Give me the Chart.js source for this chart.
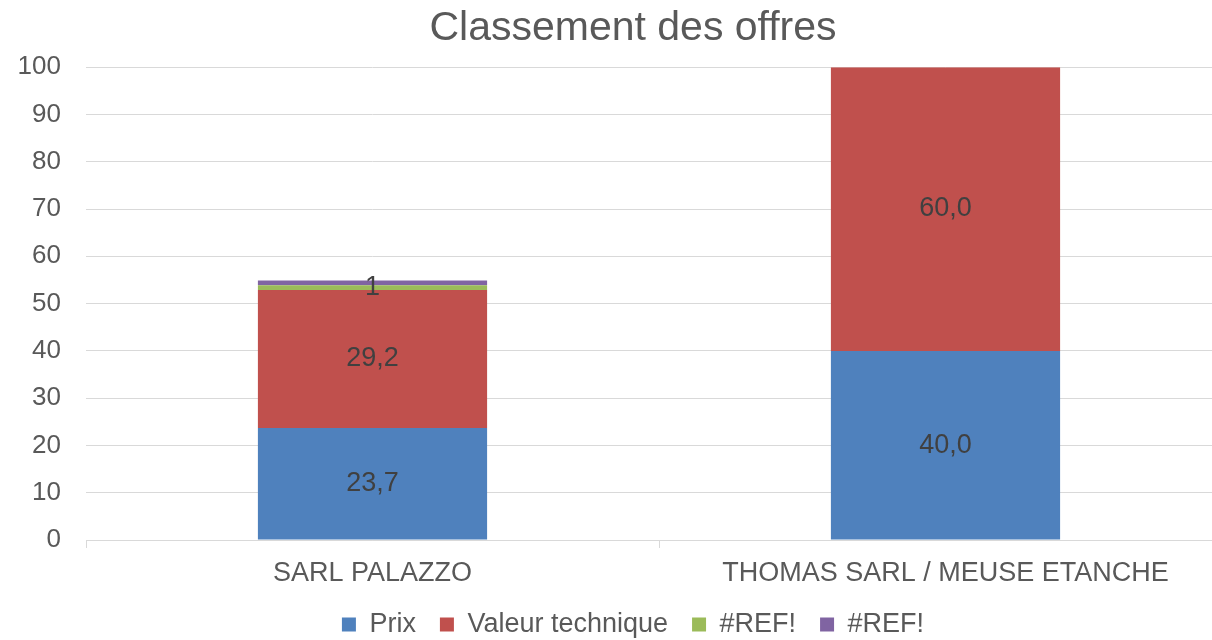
<!DOCTYPE html>
<html>
<head>
<meta charset="utf-8">
<script src="https://cdn.jsdelivr.net/npm/chart.js@4"></script>
<style>
  html, body { margin: 0; padding: 0; background: #fff; overflow: hidden; }
  #clip { width: 1212px; height: 640px; overflow: hidden; position: relative; }
  #wrap { width: 1266px; height: 648px; position: absolute; left: 0; top: 0; }
</style>
</head>
<body>
<div id="clip"><div id="wrap"><canvas id="chart"></canvas></div></div>
<script>
// ---------------- DATA ----------------
const categories = ["SARL PALAZZO", "THOMAS SARL / MEUSE ETANCHE"];
const prix = [23.7, 40.0];
const valeurTechnique = [29.2, 60.0];
const ref1 = [1, 0];
const ref2 = [1, 0];
const yTicks = [0, 10, 20, 30, 40, 50, 60, 70, 80, 90, 100];

const textColor = "#595959";
const font = "'Liberation Sans', Arial, sans-serif";

// simple data labels drawn in the middle of each segment
const segLabels = {
    id: "segLabels",
    afterDatasetsDraw(chart) {
        const ctx = chart.ctx;
        ctx.save();
        ctx.font = "27px " + font;
        ctx.fillStyle = "#404040";
        ctx.textAlign = "center";
        ctx.textBaseline = "middle";
        chart.data.datasets.forEach((ds, i) => {
            if (!ds.showLabel) return;
            chart.getDatasetMeta(i).data.forEach((bar, j) => {
                const v = ds.data[j];
                if (!v) return;
                const txt = ds.decimals ? v.toFixed(1).replace(".", ",") : String(v);
                ctx.fillText(txt, bar.x, (bar.y + bar.base) / 2);
            });
        });
        ctx.restore();
    }
};

// y tick labels drawn by hand so they are not clipped to the narrow axis box
const yLabels = {
    id: "yLabels",
    afterDraw(chart) {
        const ctx = chart.ctx;
        const y = chart.scales.y;
        ctx.save();
        ctx.font = "26px " + font;
        ctx.fillStyle = textColor;
        ctx.textAlign = "right";
        ctx.textBaseline = "middle";
        y.ticks.forEach(t => {
            ctx.fillText(String(t.value), chart.chartArea.left - 25, y.getPixelForValue(t.value));
        });
        ctx.restore();
    }
};

new Chart(document.getElementById("chart"), {
    type: "bar",
    data: {
        labels: categories,
        datasets: [
            { label: "Prix", data: prix, backgroundColor: "#4f81bd", showLabel: true, decimals: true },
            { label: "Valeur technique", data: valeurTechnique, backgroundColor: "#c0504d", showLabel: true, decimals: true },
            { label: "#REF!", data: ref1, backgroundColor: "#9bbb59", showLabel: true, decimals: false },
            { label: "#REF!", data: ref2, backgroundColor: "#8064a2", showLabel: false }
        ]
    },
    options: {
        responsive: true,
        maintainAspectRatio: false,
        animation: false,
        layout: { padding: { left: 34, right: 34, top: 0, bottom: 0 } },
        datasets: { bar: { barPercentage: 0.40, categoryPercentage: 1 } },
        plugins: {
            title: {
                display: true,
                text: "Classement des offres",
                color: textColor,
                font: { family: font, size: 41, weight: "normal" },
                padding: { top: 4, bottom: 14 }
            },
            legend: {
                position: "bottom",
                labels: {
                    color: textColor,
                    font: { family: font, size: 27 },
                    boxWidth: 14,
                    boxHeight: 14,
                    padding: 24
                }
            },
            tooltip: { enabled: false }
        },
        scales: {
            x: {
                stacked: true,
                afterFit: axis => { axis.height = 47; },
                grid: {
                    offset: true,
                    drawOnChartArea: false,
                    drawTicks: true,
                    tickLength: 8,
                    color: "#d9d9d9"
                },
                border: { color: "#d9d9d9" },
                ticks: { color: textColor, font: { family: font, size: 27 }, padding: 9, maxRotation: 0 }
            },
            y: {
                stacked: true,
                min: 0,
                max: 100,
                afterFit: axis => { axis.width = 52; },
                afterBuildTicks: axis => { axis.ticks = yTicks.map(v => ({ value: v })); },
                grid: { color: "#d9d9d9", drawTicks: false },
                border: { display: false },
                ticks: { display: false }
            }
        }
    },
    plugins: [segLabels, yLabels]
});
</script>
</body>
</html>
